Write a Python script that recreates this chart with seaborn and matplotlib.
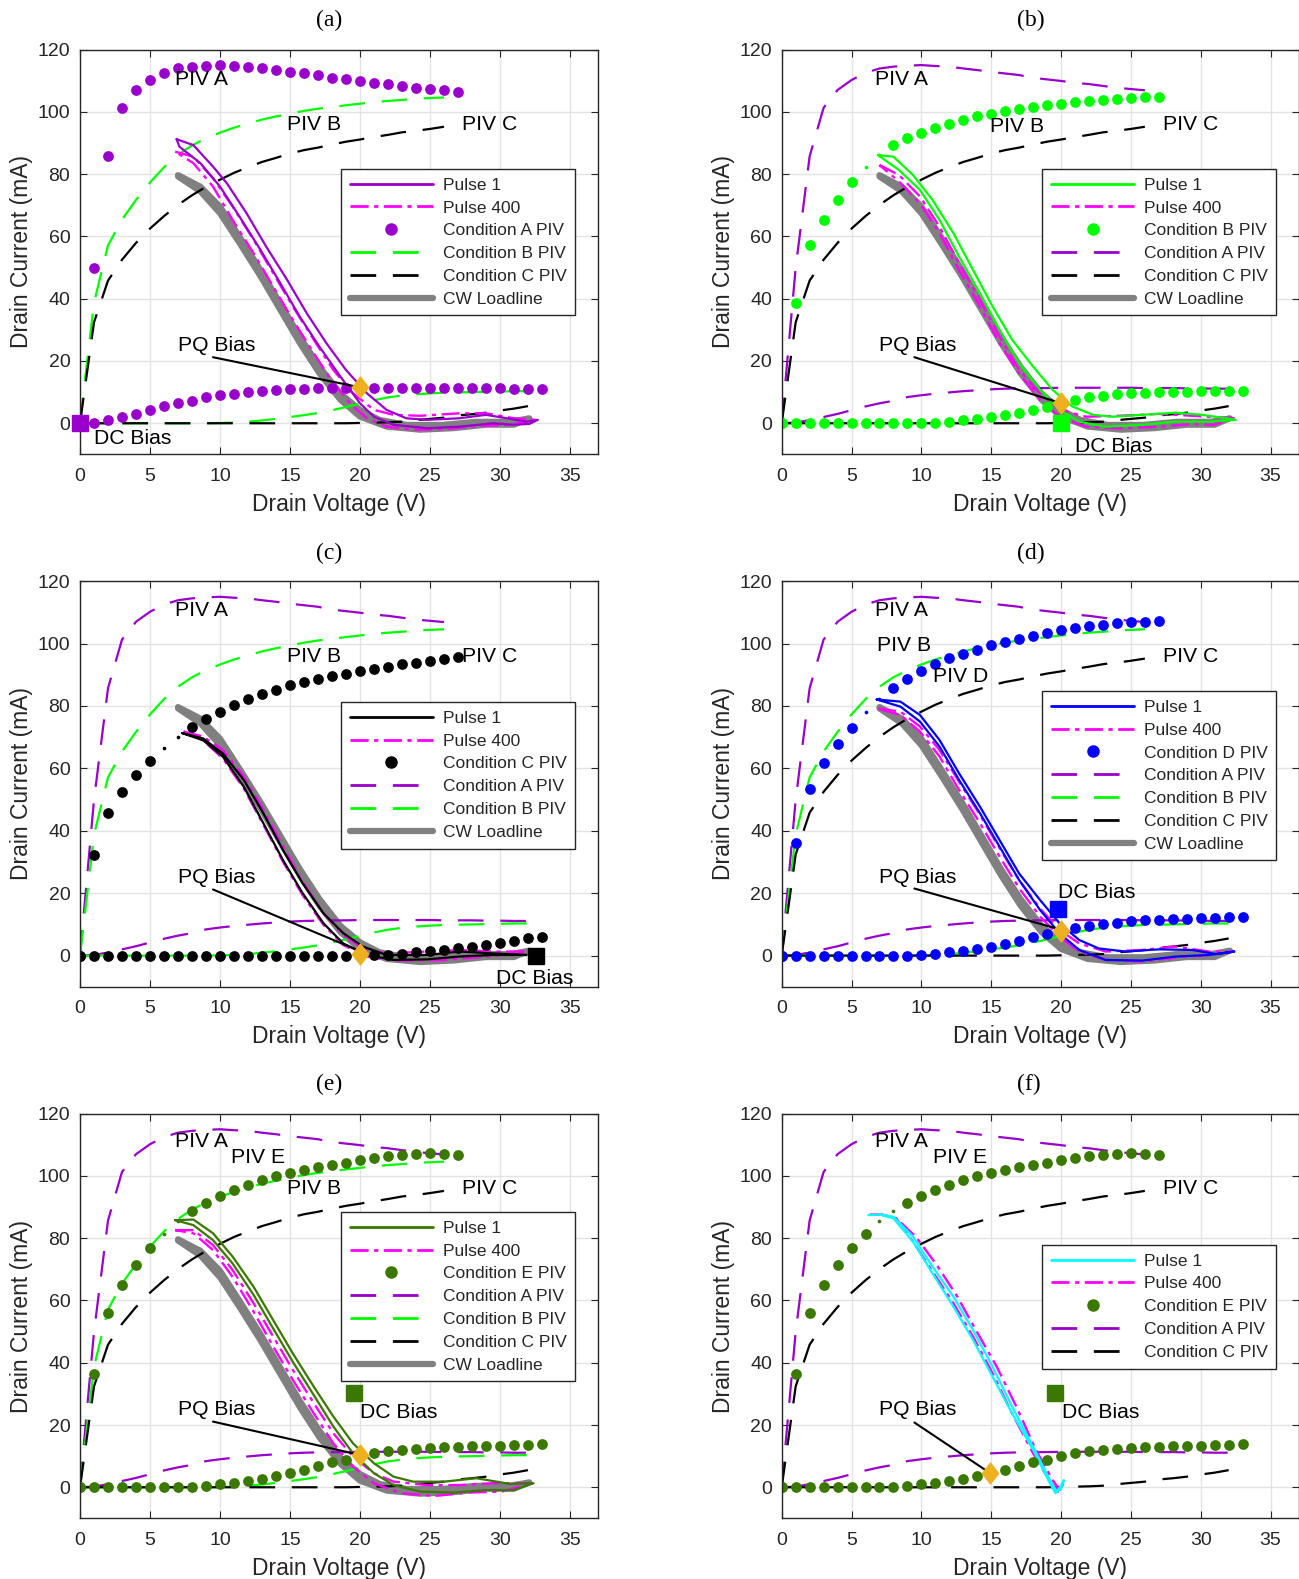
import numpy as np
import matplotlib
matplotlib.use("Agg")
import matplotlib.pyplot as plt
import seaborn as sns
from matplotlib.lines import Line2D

# ---------------- PIV sweeps (drain voltage V, drain current mA) ----------------
v_on = np.arange(0, 28)    # open-channel sweep, 0..27 V
v_off = np.arange(0, 34)   # pinched-off sweep, 0..33 V

piv_a_on = [0, 49.9, 85.7, 101.3, 107.0, 110.2, 112.5, 113.9, 114.5, 114.8, 115.0, 114.7, 114.5, 113.9,
            113.4, 112.8, 112.3, 111.8, 110.9, 110.4, 109.9, 109.3, 108.9, 108.3, 107.7, 107.3, 106.9, 106.5]
piv_a_off = [0, 0.2, 1.0, 2.0, 3.0, 4.2, 5.4, 6.4, 7.2, 8.4, 9.0, 9.5, 9.9, 10.3, 10.6, 10.9, 11.1, 11.2,
             11.3, 11.3, 11.4, 11.4, 11.4, 11.4, 11.4, 11.4, 11.3, 11.3, 11.3, 11.2, 11.2, 11.1, 11.1, 11.0]

piv_b_on = [0, 38.7, 57.1, 65.4, 71.7, 77.3, 82.2, 86.2, 89.2, 91.5, 93.3, 94.9, 96.2, 97.5, 98.5, 99.4,
            100.3, 101.0, 101.5, 102.1, 102.6, 103.1, 103.5, 103.8, 104.2, 104.4, 104.6, 104.7]
piv_b_off = [0, 0, 0, 0, 0, 0, 0, 0, 0, 0, 0.1, 0.2, 0.5, 0.9, 1.4, 2.0, 2.6, 3.3, 4.2, 5.2, 6.3, 7.4, 8.3,
             8.9, 9.3, 9.6, 9.8, 9.9, 10.0, 10.1, 10.2, 10.3, 10.3, 10.4]

piv_c_on = [0, 32.4, 45.8, 52.5, 57.9, 62.5, 66.5, 70.1, 73.2, 75.9, 78.2, 80.4, 82.2, 83.9, 85.2, 86.6,
            87.7, 88.5, 89.5, 90.4, 91.1, 91.9, 92.6, 93.4, 93.9, 94.5, 95.2, 95.8]
piv_c_off = [0, 0, 0, 0, 0, 0, 0, 0, 0, 0, 0, 0, 0, 0, 0, 0, 0, 0, 0, 0, 0.1, 0.2, 0.3, 0.5, 1.0, 1.4, 1.8,
             2.5, 2.9, 3.4, 4.1, 4.7, 5.5, 6.0]

piv_d_on = [0, 36.2, 53.5, 61.6, 67.7, 73.0, 78.0, 82.2, 85.8, 88.7, 91.2, 93.5, 95.3, 96.8, 98.1, 99.5,
            100.5, 101.5, 102.5, 103.4, 104.2, 104.9, 105.6, 106.1, 106.6, 106.8, 106.8, 107.1]
piv_d_off = [0, 0, 0, 0, 0, 0, 0, 0, 0, 0, 0.2, 0.5, 1.0, 1.5, 2.2, 2.9, 3.8, 4.6, 5.9, 7.0, 8.0, 8.9, 9.6,
             10.2, 10.4, 11.0, 11.3, 11.5, 11.8, 11.8, 12.0, 12.1, 12.3, 12.3]

piv_e_on = [0, 36.4, 55.9, 64.9, 71.3, 76.7, 81.4, 85.4, 88.8, 91.3, 93.5, 95.4, 97.1, 98.6, 99.9, 100.9,
            101.8, 102.8, 103.5, 104.3, 105.1, 105.8, 106.3, 106.7, 107.2, 107.3, 107.2, 106.7]
piv_e_off = [0, 0, 0, 0, 0, 0, 0, 0, 0, 0.5, 0.9, 1.4, 1.9, 2.8, 3.7, 4.7, 5.7, 6.7, 8.0, 8.9, 9.9, 11.0,
             11.5, 12.1, 12.4, 12.6, 12.8, 12.9, 13.1, 13.2, 13.4, 13.6, 13.7, 13.9]

# ---------------- dynamic loadlines (closed loops) ----------------
cw_v = [7.0, 8.6, 10.0, 11.4, 12.9, 14.3, 15.7, 17.1, 18.6, 20.0, 21.4, 23.3, 25.9, 28.3, 30.7, 32.1,
        31.0, 29.0, 26.7, 24.3, 21.9, 20.0, 18.6, 17.1, 15.7, 14.3, 12.9, 11.4, 10.0, 8.6, 7.0]
cw_i = [79.7, 76.0, 69.6, 59.9, 49.2, 38.5, 27.8, 18.2, 9.6, 4.3, 1.1, -0.5, -0.5, 0.5, 0.5, 1.6,
        -0.5, -0.5, -1.6, -2.1, -1.1, 2.1, 7.5, 16.0, 25.7, 36.4, 47.1, 57.8, 67.4, 74.4, 79.2]

a_p1_v = [6.9, 8.1, 9.5, 10.5, 11.9, 13.3, 14.8, 16.2, 17.6, 19.0, 20.5, 21.9, 23.3, 24.8, 27.1, 29.0, 30.5,
          31.9, 32.7, 32.1, 31.0, 29.5, 27.1, 24.8, 22.4, 21.0, 20.0, 18.6, 17.1, 15.7, 14.3, 12.9, 11.4,
          10.0, 8.6, 7.1, 6.9]
a_p1_i = [91.2, 89.3, 82.4, 77.0, 67.4, 56.7, 46.0, 35.3, 25.7, 17.1, 9.6, 4.3, 1.6, 1.1, 1.6, 2.7, 1.6,
          0.5, 1.1, -0.2, -0.5, 0.0, -1.1, -1.6, -0.5, 2.1, 6.4, 15.0, 24.6, 34.2, 45.0, 55.6, 66.3,
          76.0, 83.5, 88.8, 91.2]
a_p4_v = [6.8, 8.1, 9.5, 10.9, 12.4, 13.8, 15.2, 16.7, 18.1, 19.5, 21.0, 22.4, 24.3, 27.1, 29.0, 31.0, 32.6,
          30.7, 28.3, 25.9, 23.8, 21.9, 20.5, 19.5, 18.1, 16.7, 15.2, 13.8, 12.4, 10.9, 9.5, 8.1, 6.8]
a_p4_i = [87.2, 85.6, 78.7, 69.6, 58.9, 48.2, 37.5, 26.8, 17.1, 9.6, 4.3, 2.7, 2.4, 3.2, 3.2, 1.6, 1.1,
          -0.5, -0.9, -1.9, -2.1, -1.1, 1.6, 5.4, 12.8, 22.5, 33.2, 43.9, 54.6, 65.3, 76.0, 83.5, 87.2]

b_p1_v = [6.9, 8.0, 9.4, 10.8, 12.3, 13.7, 15.1, 16.5, 18.0, 19.4, 20.8, 22.3, 23.7, 25.8, 28.2, 30.1, 31.8,
          32.5, 30.6, 28.2, 25.8, 23.2, 21.3, 19.9, 18.5, 17.0, 15.6, 14.2, 12.7, 11.3, 9.9, 8.4, 6.9]
b_p1_i = [86.1, 85.6, 79.7, 71.7, 61.0, 49.2, 37.5, 26.8, 18.2, 10.7, 5.4, 2.7, 2.1, 2.7, 3.4, 2.7, 1.6,
          1.1, 0.5, 0.5, -0.5, -1.1, 0.5, 4.3, 10.7, 19.3, 30.0, 41.7, 53.5, 65.3, 74.9, 81.3, 86.1]
b_p4_v = [7.0, 8.4, 9.9, 11.3, 12.7, 14.2, 15.6, 17.0, 18.5, 19.9, 21.8, 24.2, 27.0, 29.4, 32.5, 30.9, 29.4,
          27.0, 24.2, 21.8, 19.9, 18.5, 17.0, 15.6, 14.2, 12.7, 11.3, 9.9, 8.4, 7.0]
b_p4_i = [82.9, 79.7, 72.8, 63.1, 51.4, 39.6, 27.8, 17.1, 9.6, 4.3, 2.1, 2.4, 3.0, 2.4, 1.6, -0.5, -0.2,
          -1.1, -1.6, -1.1, 2.1, 7.5, 16.0, 25.7, 37.5, 49.2, 61.0, 70.6, 77.6, 82.9]

c_p1_v = [7.3, 8.8, 10.2, 11.7, 13.1, 14.5, 15.9, 17.4, 18.8, 20.2, 21.9, 24.8, 27.1, 29.5, 31.9, 29.5,
          27.1, 24.8, 22.4, 20.5, 18.8, 17.4, 15.9, 14.5, 13.1, 11.7, 10.2, 8.8, 7.3]
c_p1_i = [71.3, 69.6, 64.8, 56.3, 45.6, 33.8, 23.2, 13.5, 7.2, 2.9, 0.2, 0.2, 1.3, 0.7, 0.2, 0.2,
          -0.3, -1.2, -1.4, 0.2, 3.9, 10.3, 20.0, 30.6, 42.4, 54.1, 63.8, 69.0, 71.3]
c_p4_v = [7.4, 8.8, 10.2, 11.7, 13.1, 14.5, 15.9, 17.4, 18.8, 20.2, 21.9, 24.8, 27.1, 29.5, 31.9, 29.5,
          26.0, 22.4, 20.5, 18.8, 17.4, 15.9, 14.5, 13.1, 11.7, 10.2, 8.8, 7.4]
c_p4_i = [71.8, 70.2, 65.9, 57.3, 46.7, 34.9, 23.7, 13.5, 6.6, 2.3, 0.7, 1.3, 1.8, 1.3, 1.3, -0.1,
          -1.4, -1.6, -0.3, 3.4, 9.8, 19.4, 30.1, 41.9, 53.6, 63.2, 69.0, 71.8]

d_p1_v = [6.8, 8.5, 9.9, 11.3, 12.7, 14.2, 15.6, 17.0, 18.5, 19.9, 21.3, 22.7, 24.6, 27.0, 29.4, 31.1, 32.4,
          30.6, 28.2, 25.8, 23.2, 21.3, 19.9, 18.5, 17.0, 15.6, 14.2, 12.7, 11.3, 9.9, 8.5, 6.8]
d_p1_i = [82.1, 81.4, 77.1, 69.1, 58.4, 47.7, 37.0, 26.3, 17.8, 10.3, 5.0, 2.3, 1.3, 2.0, 1.8, 0.5, 1.3,
          0.2, -0.3, -1.6, -1.4, 1.8, 7.1, 14.6, 24.2, 34.9, 45.6, 56.3, 67.0, 75.0, 79.8, 82.1]
d_p4_v = [6.9, 8.5, 9.9, 11.3, 12.7, 14.2, 15.6, 17.0, 18.5, 19.9, 21.3, 23.2, 25.8, 28.2, 30.6, 32.4,
          30.6, 28.2, 25.8, 23.2, 21.3, 19.9, 18.5, 17.0, 15.6, 14.2, 12.7, 11.3, 9.9, 8.5, 6.9]
d_p4_i = [79.2, 78.2, 73.4, 65.9, 55.7, 45.1, 34.4, 24.2, 15.1, 8.2, 3.9, 1.3, 1.8, 2.9, 1.3, 1.3,
          0.2, -0.6, -1.9, -1.4, 1.3, 6.1, 12.5, 21.6, 31.7, 42.4, 53.1, 63.8, 71.8, 77.1, 79.2]

e_p1_v = [6.8, 8.1, 9.5, 10.9, 12.4, 13.8, 15.2, 16.7, 18.1, 19.5, 21.0, 22.4, 23.8, 26.0, 28.3, 30.7, 32.4,
          31.0, 29.0, 26.7, 24.3, 22.4, 21.0, 19.5, 18.1, 16.7, 15.2, 13.8, 12.4, 10.9, 9.5, 8.1, 6.8]
e_p1_i = [85.8, 86.0, 81.6, 74.1, 64.4, 53.7, 43.0, 32.3, 22.7, 14.1, 7.7, 3.4, 1.8, 1.8, 2.9, 1.1, 1.3,
          -0.9, -0.9, -1.7, -1.4, 0.7, 4.5, 10.9, 19.5, 29.6, 40.3, 51.0, 61.8, 71.9, 79.4, 84.2, 85.8]
e_p4_v = [6.8, 8.1, 9.5, 10.9, 12.4, 13.8, 15.2, 16.7, 18.1, 19.5, 21.0, 22.4, 24.8, 27.1, 29.5, 32.4,
          30.1, 27.7, 25.3, 22.9, 21.0, 19.5, 18.1, 16.7, 15.2, 13.8, 12.4, 10.9, 9.5, 8.1, 6.8]
e_p4_i = [82.6, 82.6, 77.8, 69.8, 59.1, 48.4, 37.7, 27.0, 17.3, 9.8, 4.5, 1.8, 0.7, 0.7, 1.3, 1.3,
          -1.4, -1.7, -2.8, -1.9, 1.3, 6.6, 14.1, 23.7, 34.5, 45.2, 56.4, 67.6, 76.2, 81.6, 82.6]

f_p1_v = [6.2, 7.0, 8.0, 9.4, 10.8, 12.3, 13.7, 15.1, 16.5, 18.0, 19.2, 19.7, 20.0, 20.2, 20.0, 19.6,
          19.2, 18.0, 16.5, 15.1, 13.7, 12.3, 10.8, 9.4, 8.0, 7.0]
f_p1_i = [87.4, 87.6, 86.9, 80.5, 70.9, 61.2, 50.5, 38.7, 25.9, 13.0, 2.3, -1.4, -0.5, 2.3, 0.5, -1.9,
          1.3, 12.0, 23.7, 35.5, 47.3, 58.0, 68.7, 78.9, 86.4, 87.6]
f_p4_v = [6.3, 7.2, 8.2, 9.6, 11.1, 12.5, 13.9, 15.4, 16.8, 18.2, 19.4, 19.9, 20.2, 20.1, 19.8, 19.2,
          18.0, 16.5, 15.1, 13.7, 12.3, 10.8, 9.4, 8.2, 7.2]
f_p4_i = [87.6, 87.6, 86.4, 80.5, 71.4, 61.8, 50.5, 38.7, 25.9, 12.0, 2.3, -0.9, 1.8, 0.5, -1.4, 1.8,
          10.9, 23.7, 36.6, 48.4, 59.1, 69.3, 78.9, 86.4, 87.6]

# ---------------- bias points ----------------
pq_bias = {"a": (20.0, 11.6), "b": (20.0, 6.4), "c": (20.0, 0.5),
           "d": (20.0, 8.0), "e": (20.0, 10.4), "f": (14.9, 4.5)}
dc_bias = {"a": (0.0, 0.0), "b": (20.0, 0.0), "c": (32.6, 0.0),
           "d": (19.8, 14.8), "e": (19.6, 30.2), "f": (19.6, 30.2)}

# ---------------- colours and styles ----------------
PURPLE = "#9900CC"
GREEN = "#00FF00"
BLACK = "#000000"
BLUE = "#0000FF"
DKGREEN = "#3A7800"
CYAN = "#00FFFF"
MAGENTA = "#FF00FF"
GRAY = "#808080"
ORANGE = "#EDB120"

DASH = (0, (18.5, 12.0))
DASHDOT = (0, (13.0, 4.0, 3.0, 4.0))
DIAMOND = [(-0.39, 0.0), (0.0, 0.5), (0.39, 0.0), (0.0, -0.5), (-0.39, 0.0)]

sns.set_theme(style="whitegrid")
plt.rcParams["font.family"] = ["Liberation Sans", "DejaVu Sans"]
plt.rcParams["lines.scale_dashes"] = False
plt.rcParams["axes.edgecolor"] = "#262626"
plt.rcParams["axes.linewidth"] = 1.0
plt.rcParams["grid.color"] = "#E3E3E3"
plt.rcParams["grid.linewidth"] = 1.0

PIV = {"A": (piv_a_on, piv_a_off, PURPLE), "B": (piv_b_on, piv_b_off, GREEN),
       "C": (piv_c_on, piv_c_off, BLACK), "D": (piv_d_on, piv_d_off, BLUE),
       "E": (piv_e_on, piv_e_off, DKGREEN)}

panels = [
    dict(key="a", dots="A", small=[], dashed=["B", "C"], color=PURPLE, dc_color=PURPLE,
         p1=(a_p1_v, a_p1_i), p4=(a_p4_v, a_p4_i), cw=True,
         texts=[("PIV A", 6.8, 110.4), ("PIV B", 14.8, 96.0), ("PIV C", 27.3, 95.8),
                ("PQ Bias", 7.0, 25.0), ("DC Bias", 1.0, -5.0)],
         pq_line=((9.5, 21.2), (19.5, 12.0)), leg_xy=(0.504, 0.705)),
    dict(key="b", dots="B", small=[6, 7], dashed=["A", "C"], color=GREEN, dc_color=GREEN,
         p1=(b_p1_v, b_p1_i), p4=(b_p4_v, b_p4_i), cw=True,
         texts=[("PIV A", 6.7, 110.3), ("PIV B", 14.9, 95.4), ("PIV C", 27.3, 95.8),
                ("PQ Bias", 7.0, 25.0), ("DC Bias", 21.0, -7.6)],
         pq_line=((9.5, 21.2), (19.6, 7.0)), leg_xy=(0.504, 0.705)),
    dict(key="c", dots="C", small=[6, 7], dashed=["A", "B"], color=BLACK, dc_color=BLACK,
         p1=(c_p1_v, c_p1_i), p4=(c_p4_v, c_p4_i), cw=True,
         texts=[("PIV A", 6.8, 110.6), ("PIV B", 14.8, 96.0), ("PIV C", 27.3, 95.8),
                ("PQ Bias", 7.0, 25.0), ("DC Bias", 29.7, -7.4)],
         pq_line=((9.5, 21.2), (19.8, 1.8)), leg_xy=(0.504, 0.702)),
    dict(key="d", dots="D", small=[6, 7], dashed=["A", "B", "C"], color=BLUE, dc_color=BLUE,
         p1=(d_p1_v, d_p1_i), p4=(d_p4_v, d_p4_i), cw=True,
         texts=[("PIV A", 6.7, 110.6), ("PIV B", 6.8, 99.4), ("PIV D", 10.8, 89.4),
                ("PIV C", 27.3, 95.8), ("PQ Bias", 7.0, 25.0), ("DC Bias", 19.8, 20.3)],
         pq_line=((9.5, 21.5), (19.6, 8.8)), leg_xy=(0.504, 0.729)),
    dict(key="e", dots="E", small=[6, 7], dashed=["A", "B", "C"], color=DKGREEN, dc_color=DKGREEN,
         p1=(e_p1_v, e_p1_i), p4=(e_p4_v, e_p4_i), cw=True,
         texts=[("PIV A", 6.8, 111.2), ("PIV E", 10.8, 105.8), ("PIV B", 14.8, 96.1),
                ("PIV C", 27.3, 96.0), ("PQ Bias", 7.0, 24.9), ("DC Bias", 20.0, 23.9)],
         pq_line=((9.5, 21.1), (19.5, 10.9)), leg_xy=(0.504, 0.757)),
    dict(key="f", dots="E", small=[7, 8], dashed=["A", "C"], color=CYAN, dc_color=DKGREEN,
         p1=(f_p1_v, f_p1_i), p4=(f_p4_v, f_p4_i), cw=False,
         texts=[("PIV A", 6.7, 111.0), ("PIV E", 10.8, 105.8), ("PIV C", 27.3, 96.0),
                ("PQ Bias", 7.0, 24.9), ("DC Bias", 20.1, 23.9)],
         pq_line=((9.5, 20.8), (14.5, 5.8)), leg_xy=(0.504, 0.676)),
]

W, H = 1299, 1579
fig = plt.figure(figsize=(W / 100, H / 100), dpi=100)

col_left = [80 / W, 781.7 / W]
col_width = [518 / W, 516.8 / W]
rows = [(49.5, 454.4), (581.2, 986.8), (1113.7, 1518.4)]
title_pos = [(329, 20), (1031, 20), (329, 553), (1031, 553), (329, 1084), (1029, 1084)]


def loop(ax, v, i, color, lw, ls, z):
    sns.lineplot(x=v, y=i, sort=False, estimator=None, color=color, lw=lw,
                 linestyle=ls, ax=ax, legend=False, zorder=z)


for n, p in enumerate(panels):
    r, c = divmod(n, 2)
    top, bot = rows[r]
    ax = fig.add_axes([col_left[c], 1 - bot / H, col_width[c], (bot - top) / H])
    ax.set_facecolor("white")

    if p["cw"]:
        loop(ax, cw_v, cw_i, GRAY, 4.3, "-", 2.0)

    for name in p["dashed"]:
        on, off, col = PIV[name]
        sns.lineplot(x=v_on[:-1], y=on[:-1], sort=False, estimator=None, color=col, lw=1.6,
                     linestyle=DASH, ax=ax, legend=False, zorder=2.1)
        sns.lineplot(x=v_off[:-1], y=off[:-1], sort=False, estimator=None, color=col, lw=1.6,
                     linestyle=DASH, ax=ax, legend=False, zorder=2.1)

    loop(ax, p["p4"][0], p["p4"][1], MAGENTA, 1.7, DASHDOT, 2.2)
    loop(ax, p["p1"][0], p["p1"][1], p["color"], 1.6, "-", 2.3)

    on, off, dcol = PIV[p["dots"]]
    big = [k for k in range(len(v_on)) if k not in p["small"]]
    sns.scatterplot(x=v_on[big], y=np.asarray(on)[big], s=60, color=dcol, linewidth=0,
                    ax=ax, legend=False, zorder=2.5)
    if p["small"]:
        sm = p["small"]
        sns.scatterplot(x=v_on[sm], y=np.asarray(on)[sm], s=7, color=dcol, linewidth=0,
                        ax=ax, legend=False, zorder=2.5)
    sns.scatterplot(x=v_off, y=off, s=60, color=dcol, linewidth=0, ax=ax, legend=False, zorder=2.5)

    (x0, y0), (x1, y1) = p["pq_line"]
    ax.plot([x0, x1], [y0, y1], color="black", lw=1.5, zorder=2.8)
    qx, qy = pq_bias[p["key"]]
    ax.plot([qx], [qy], marker=DIAMOND, ms=15, color=ORANGE, mec=ORANGE, ls="none", zorder=3)
    sx, sy = dc_bias[p["key"]]
    ax.plot([sx], [sy], marker="s", ms=11.5, color=p["dc_color"], mec=p["dc_color"], ls="none",
            zorder=3, clip_on=False)

    for txt, tx, ty in p["texts"]:
        ax.text(tx, ty, txt, fontsize=15.2, ha="left", va="center", color="black", zorder=4)

    ax.set_xlim(0, 37)
    ax.set_ylim(-10, 120)
    ax.set_xticks(range(0, 36, 5))
    ax.set_yticks(range(0, 121, 20))
    ax.grid(True, color="#E3E3E3", lw=1.0)
    ax.tick_params(direction="in", length=5, width=0.8, top=True, right=True, bottom=True, left=True,
                   labelsize=14, labelcolor="#262626", color="#262626", pad=7)
    ax.tick_params(axis="x", pad=9.5)
    ax.set_xlabel("Drain Voltage (V)", fontsize=16.5, color="#262626", labelpad=6)
    ax.set_ylabel("Drain Current (mA)", fontsize=16.5, color="#262626", labelpad=3)
    for s in ax.spines.values():
        s.set_color("#262626")
        s.set_linewidth(1.0)

    handles = [
        Line2D([], [], color=p["color"], lw=2.0, label="Pulse 1"),
        Line2D([], [], color=MAGENTA, lw=2.0, ls=DASHDOT, label="Pulse 400"),
        Line2D([], [], color=dcol, ls="none", marker="o", ms=8, label=f"Condition {p['dots']} PIV"),
    ]
    for name in p["dashed"]:
        handles.append(Line2D([], [], color=PIV[name][2], lw=2.0, ls=DASH, label=f"Condition {name} PIV"))
    if p["cw"]:
        handles.append(Line2D([], [], color=GRAY, lw=4.5, label="CW Loadline"))
    leg = ax.legend(handles=handles, loc="upper left", bbox_to_anchor=p["leg_xy"], borderaxespad=0,
                    fontsize=12.5, handlelength=4.8, handletextpad=0.55, labelspacing=0.44,
                    borderpad=0.5, fancybox=False, framealpha=1, edgecolor="#262626", numpoints=1)
    leg.get_frame().set_linewidth(1.0)
    leg.set_zorder(5)

for (tx, ty), lab in zip(title_pos, "abcdef"):
    fig.text(tx / W, 1 - ty / H, f"({lab})", fontsize=17, family=["Liberation Serif", "DejaVu Serif"],
             ha="center", va="center", color="black")

fig.savefig("out.png", dpi=100)
